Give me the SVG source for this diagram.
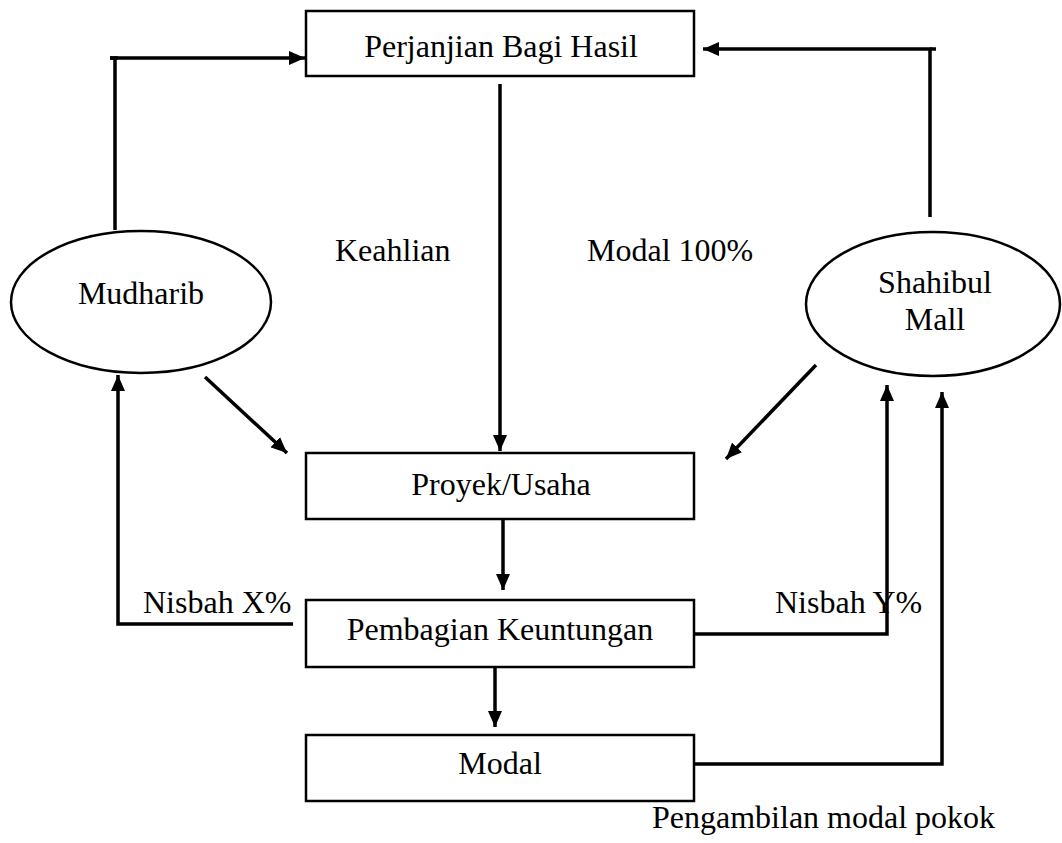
<svg xmlns="http://www.w3.org/2000/svg" width="1062" height="843" viewBox="0 0 1062 843">
<style>
.box{fill:#fff;stroke:#000;stroke-width:2.5}
.ell{fill:#fff;stroke:#000;stroke-width:2.5}
.t{font-family:"Liberation Serif","Times New Roman",serif;font-size:32px;fill:#000}
.c{text-anchor:middle}
.ln{fill:none;stroke:#000;stroke-width:3.5}
.ar{fill:none;stroke:#000;stroke-width:3.5;marker-end:url(#ah)}
</style>
<defs>
<marker id="ah" markerUnits="userSpaceOnUse" markerWidth="18" markerHeight="14" refX="16" refY="7" orient="auto">
<path d="M0,0 L16,7 L0,14 Z" fill="#000"/>
</marker>
</defs>
<g id="connectors">
<polyline class="ar" points="115,230 115,58 110,58 305,58"/>
<line class="ln" x1="110" y1="58" x2="118" y2="58"/>
<polyline class="ar" points="930,217 930,49 703,49"/>
<line class="ln" x1="930" y1="49" x2="936" y2="49"/>
<line class="ar" x1="500" y1="84" x2="500" y2="451"/>
<line class="ar" x1="205" y1="377" x2="287" y2="453"/>
<line class="ar" x1="816" y1="365" x2="726" y2="459"/>
<line class="ar" x1="503" y1="520" x2="503" y2="590"/>
<line class="ar" x1="495" y1="668" x2="495" y2="727"/>
<polyline class="ar" points="293,624 118,624 118,375"/>
<polyline class="ar" points="694,634 887,634 887,385"/>
<polyline class="ar" points="687,764 942,764 942,392"/>
</g>
<g id="perjanjian">
<rect class="box" x="306" y="11" width="388" height="65"/>
<text class="t c" x="501" y="57">Perjanjian Bagi Hasil</text>
</g>
<g id="mudharib">
<ellipse class="ell" cx="141" cy="302" rx="130" ry="71"/>
<text class="t c" x="141" y="304">Mudharib</text>
</g>
<g id="shahibul">
<ellipse class="ell" cx="933" cy="304" rx="127" ry="72"/>
<text class="t c" x="935" y="293">Shahibul</text>
<text class="t c" x="935" y="330">Mall</text>
</g>
<g id="proyek">
<rect class="box" x="306" y="453" width="388" height="66"/>
<text class="t c" x="501" y="495">Proyek/Usaha</text>
</g>
<g id="pembagian">
<rect class="box" x="306" y="600" width="388" height="67"/>
<text class="t c" x="500" y="640">Pembagian Keuntungan</text>
</g>
<g id="modal">
<rect class="box" x="306" y="735" width="388" height="66"/>
<text class="t c" x="500" y="774">Modal</text>
</g>
<g id="labels">
<text class="t" x="335" y="261">Keahlian</text>
<text class="t" x="587" y="261">Modal 100%</text>
<text class="t" x="143" y="613">Nisbah X%</text>
<text class="t" x="775" y="613">Nisbah Y%</text>
<text class="t" x="652" y="828">Pengambilan modal pokok</text>
</g>
</svg>
